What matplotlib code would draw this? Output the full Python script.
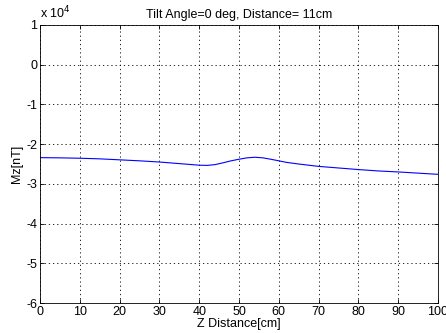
import numpy as np
import matplotlib.pyplot as plt
from matplotlib.ticker import FuncFormatter

# Mz [nT] along the z axis
z_cm = [0, 5, 10, 15, 20, 25, 30, 35, 40, 42, 44, 46, 48, 50, 52, 54, 56, 58, 60,
        62, 65, 70, 75, 80, 85, 90, 95, 100]
mz_nT = [-23400, -23450, -23550, -23700, -23950, -24200, -24500, -24900, -25300,
         -25350, -25150, -24700, -24200, -23800, -23450, -23300, -23450, -23800,
         -24200, -24600, -25000, -25600, -26000, -26400, -26750, -27000, -27300, -27600]

plt.rcParams['font.family'] = ['Liberation Sans', 'DejaVu Sans']
plt.rcParams['font.size'] = 9

fig = plt.figure(figsize=(4.46, 3.33), dpi=100)
ax = fig.add_axes([0.0897, 0.090, 0.8923, 0.835])

ax.plot(z_cm, mz_nT, color='#0000ff', linewidth=0.8)

ax.set_xlim(0, 100)
ax.set_ylim(-6e4, 1e4)
ax.set_xticks(np.arange(0, 101, 10))
ax.set_yticks(np.arange(-6e4, 1.01e4, 1e4))
ax.yaxis.set_major_formatter(FuncFormatter(lambda v, p: f"{v/1e4:.0f}"))
ax.grid(True, linestyle=(0, (1.5, 3.5)), color='black', linewidth=0.6)
ax.tick_params(direction='in', top=True, right=True, length=3, width=0.6, pad=2)
for s in ax.spines.values():
    s.set_linewidth(0.6)

ax.text(0.0, 1.012, r'x 10$^{4}$', transform=ax.transAxes, ha='left', va='bottom')
ax.set_title('Tilt Angle=0 deg, Distance= 11cm', fontsize=9, pad=5)
ax.set_xlabel('Z Distance[cm]', labelpad=0)
ax.set_ylabel('Mz[nT]', labelpad=2)

fig.savefig('out.png', dpi=100)
